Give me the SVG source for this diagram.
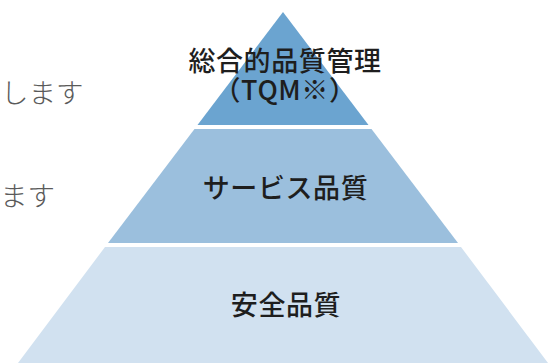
<svg xmlns="http://www.w3.org/2000/svg" width="555" height="363" viewBox="0 0 555 363">
<style>
.lbl{font-family:"Noto Sans CJK JP","Noto Sans",sans-serif;font-size:27px;font-weight:500;fill:#1e1e1e;text-anchor:middle;letter-spacing:0.6px}
.side{font-family:"Noto Sans CJK JP","Noto Sans",sans-serif;font-size:27.5px;font-weight:300;fill:#5a5a5a}
</style>
<rect width="555" height="363" fill="#ffffff"/>
<text class="side" x="1" y="103">します</text>
<text class="side" x="0" y="206">ます</text>
<g id="tier-top">
<polygon points="283,12 368.5,125 197.5,125" fill="#6ba4d0"/>
<text class="lbl"><tspan x="285" y="71">総合的品質管理</tspan><tspan x="285" y="100">（TQM※）</tspan></text>
</g>
<g id="tier-middle">
<polygon points="194.5,129 371.5,129 458,243 108,243" fill="#9bbfdd"/>
<text class="lbl" x="285.5" y="198">サービス品質</text>
</g>
<g id="tier-bottom">
<polygon points="105,247 461,247 548,363 18,363" fill="#d1e1f0"/>
<text class="lbl" x="286" y="315">安全品質</text>
</g>
<g id="connectors"/>
</svg>
